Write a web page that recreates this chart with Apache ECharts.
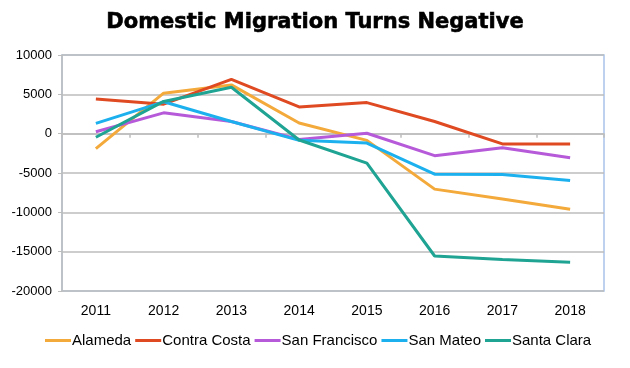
<!DOCTYPE html>
<html><head><meta charset="utf-8">
<script src="https://cdn.jsdelivr.net/npm/echarts@6/dist/echarts.min.js"></script>
<style>html,body{margin:0;padding:0;background:#fff}#c{width:630px;height:368px}</style>
</head><body><div id="c"></div>
<script>
const years = ['2011','2012','2013','2014','2015','2016','2017','2018'];
const seriesNames = ['Alameda','Contra Costa','San Francisco','San Mateo','Santa Clara'];
const alameda     = [-1900, 5150, 6200, 1350, -850, -7050, -8300, -9600];
const contraCosta = [4400, 3750, 6900, 3400, 3950, 1550, -1300, -1300];
const sanFrancisco= [250, 2650, 1550, -750, 50, -2800, -1800, -3050];
const sanMateo    = [1300, 4050, 1550, -850, -1200, -5150, -5200, -5950];
const santaClara  = [-450, 4100, 5900, -800, -3750, -15550, -16000, -16350];
const yTicks = [-20000, -15000, -10000, -5000, 0, 5000, 10000];
const colors = ['#F4A93B','#DF4A22','#B65AD9','#1CB1EE','#1FA393'];
const dataSets = [alameda, contraCosta, sanFrancisco, sanMateo, santaClara];

const chart = echarts.init(document.getElementById('c'), null, {renderer:'canvas'});
chart.setOption({
  animation:false,
  backgroundColor:'#fff',
  title:{text:'Domestic Migration Turns Negative', left:'center', top:7,
    textStyle:{fontFamily:'DejaVu Sans', fontWeight:'bold', fontSize:21, color:'#000',
      textBorderColor:'#000', textBorderWidth:0.6}},
  legend:{data:seriesNames, left:40, top:328, icon:'rect', itemWidth:26, itemHeight:3, itemGap:4,
    textStyle:{fontFamily:'Liberation Sans', fontSize:15, color:'#000', padding:[0,0,0,-4]}},
  grid:{left:62, right:26, top:55, bottom:77, show:true, borderColor:'#A9C4EA', borderWidth:1.5},
  xAxis:[{type:'category', data:years, position:'bottom', boundaryGap:true,
      axisLine:{show:false, onZero:false}, axisTick:{show:false},
      axisLabel:{fontFamily:'Liberation Sans', fontSize:14, color:'#000', margin:13}},
    {type:'category', data:years, position:'bottom', boundaryGap:true, offset:0,
      axisLine:{show:true, onZero:true, lineStyle:{color:'#BDBDBD', width:1.5}},
      axisTick:{show:true, length:4, inside:false, lineStyle:{color:'#BDBDBD', width:1.5}},
      axisLabel:{show:false}}],
  yAxis:{type:'value', min:-20000, max:10000, interval:5000,
    axisLine:{show:true, lineStyle:{color:'#BDBDBD', width:1.5}},
    axisTick:{show:true, length:4, lineStyle:{color:'#BDBDBD'}},
    splitLine:{lineStyle:{color:'#BDBDBD', width:1.5}},
    axisLabel:{fontFamily:'Liberation Sans', fontSize:13, color:'#000', margin:10,
      formatter:v=>yTicks.includes(v)?String(v):''}},
  series: seriesNames.map((n,i)=>({name:n, type:'line', data:dataSets[i], xAxisIndex:0,
    symbol:'none', lineStyle:{width:3, color:colors[i]}, itemStyle:{color:colors[i]}}))
});
</script></body></html>
